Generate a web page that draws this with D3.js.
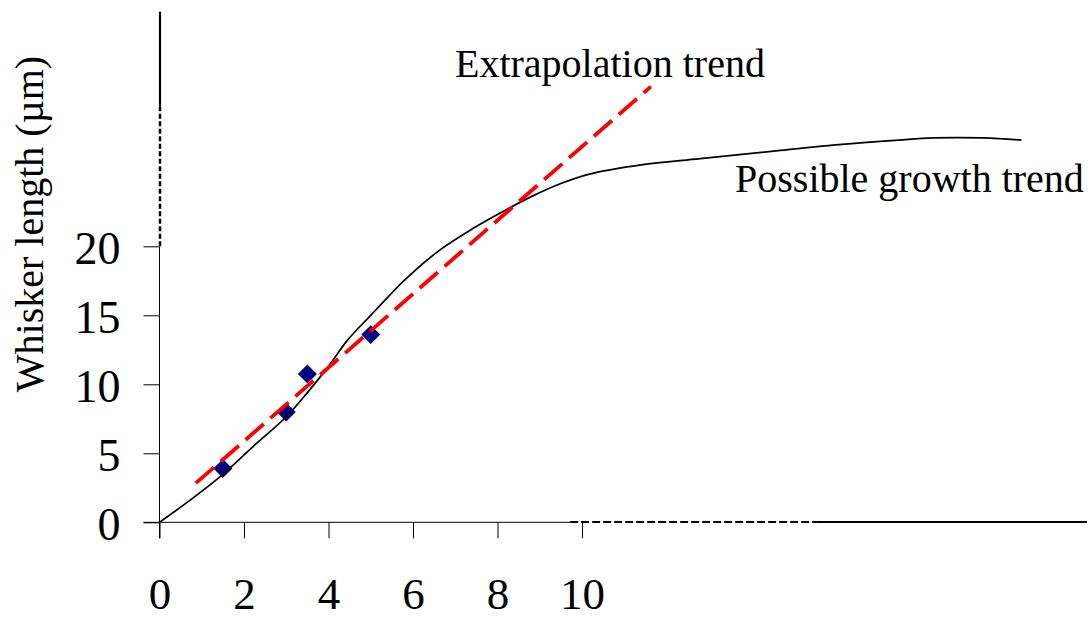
<!DOCTYPE html>
<html>
<head>
<meta charset="utf-8">
<script src="https://cdn.jsdelivr.net/npm/d3@7"></script>
<style>
  html, body { margin: 0; padding: 0; background: #fff; }
  svg { display: block; }
  text { font-family: "Liberation Serif", "Times New Roman", serif; fill: #000; }
</style>
</head>
<body>
<svg id="chart" width="1090" height="619"></svg>
<script>
// Measured whisker lengths (time, µm)
const measuredTime = [1.5, 3.0, 3.5, 5.0];
const measuredLength = [3.9, 8.0, 10.75, 13.6];

// Hand-drawn "possible growth" curve
const growthTime = [0, 0.7, 1.45, 2.2, 3.0, 3.5, 4.0, 4.45, 5.0, 5.4, 5.8, 6.6, 7.4, 8.15, 8.8, 9.5, 10.2, 11.4, 12.8, 14.7, 16.0, 17.5, 18.3, 19.5, 20.4];
const growthLength = [0, 1.55, 3.35, 5.45, 7.65, 9.4, 11.3, 13.2, 15.0, 16.3, 17.55, 19.65, 21.25, 22.55, 23.6, 24.55, 25.25, 25.9, 26.35, 26.95, 27.35, 27.7, 27.85, 27.85, 27.7];

// Straight-line extrapolation: length = slope * t + intercept
const trendSlope = 2.668;
const trendIntercept = 0.543;
const trendRange = [0.86, 11.63];

// Tick labels
const xTicks = [0, 2, 4, 6, 8, 10];
const yTicks = [0, 5, 10, 15, 20];

const svg = d3.select("#chart");

const x = d3.scaleLinear().domain([0, 22]).range([159.5, 1089]);
const y = d3.scaleLinear().domain([0, 37]).range([522.3, 11.7]);

// Axis lines with broken (dashed) sections
const axes = svg.append("g").attr("stroke", "#000").attr("fill", "none");
const ax = x(0), ay = y(0);
// y axis: thin lower part, dashed break, thick upper part
axes.append("line").attr("x1", ax).attr("x2", ax).attr("y1", ay + 16).attr("y2", y(20)).attr("stroke-width", 1);
axes.append("line").attr("x1", ax + 0.5).attr("x2", ax + 0.5).attr("y1", y(20)).attr("y2", y(30.1)).attr("stroke-width", 2.5).attr("stroke-dasharray", "5,2.5");
axes.append("line").attr("x1", ax + 0.5).attr("x2", ax + 0.5).attr("y1", y(30.1)).attr("y2", y(37)).attr("stroke-width", 2.2);
// x axis: thin left part, dashed break, thick right part
axes.append("line").attr("x1", ax - 16).attr("x2", x(9.72)).attr("y1", ay).attr("y2", ay).attr("stroke-width", 1);
axes.append("line").attr("x1", x(9.72)).attr("x2", x(15.56)).attr("y1", ay - 0.3).attr("y2", ay - 0.3).attr("stroke-width", 2.2).attr("stroke-dasharray", "8,3");
axes.append("line").attr("x1", x(15.56)).attr("x2", x(21.95)).attr("y1", ay - 0.3).attr("y2", ay - 0.3).attr("stroke-width", 2.2);

// Tick marks and labels
const xAxis = svg.append("g")
  .attr("transform", `translate(0,${ay})`)
  .call(d3.axisBottom(x).tickValues(xTicks).tickSize(16).tickPadding(39).tickFormat(d3.format("d")));
xAxis.select(".domain").remove();
xAxis.selectAll("text").attr("font-size", 45).attr("font-family", "'Liberation Serif', 'Times New Roman', serif").attr("fill", "#000");
xAxis.selectAll("line").attr("stroke", "#000");

const yAxis = svg.append("g")
  .attr("transform", `translate(${ax},0)`)
  .call(d3.axisLeft(y).tickValues(yTicks).tickSize(16).tickPadding(23).tickFormat(d3.format("d")));
yAxis.select(".domain").remove();
yAxis.selectAll("text").attr("font-size", 46).attr("dy", "0.38em").attr("font-family", "'Liberation Serif', 'Times New Roman', serif").attr("fill", "#000");
yAxis.selectAll("line").attr("stroke", "#000");

// Measured points as navy diamonds
const diamond = d3.symbol().type(d3.symbolSquare).size(180);
svg.append("g").selectAll("path")
  .data(d3.range(measuredTime.length))
  .join("path")
  .attr("d", diamond)
  .attr("transform", i => `translate(${x(measuredTime[i])},${y(measuredLength[i])}) rotate(45)`)
  .attr("fill", "#000080");

// Possible growth trend
const growthLine = d3.line()
  .x(i => x(growthTime[i]))
  .y(i => y(growthLength[i]))
  .curve(d3.curveCatmullRom.alpha(0.5));
svg.append("path")
  .attr("d", growthLine(d3.range(growthTime.length)))
  .attr("fill", "none")
  .attr("stroke", "#000")
  .attr("stroke-width", 1.7);

// Extrapolation trend line
svg.append("line")
  .attr("x1", x(trendRange[0])).attr("y1", y(trendSlope * trendRange[0] + trendIntercept))
  .attr("x2", x(trendRange[1])).attr("y2", y(trendSlope * trendRange[1] + trendIntercept))
  .attr("stroke", "#ff0000")
  .attr("stroke-width", 3.8)
  .attr("stroke-dasharray", "24,9");

// Annotations
svg.append("text").attr("x", 455).attr("y", 77).attr("font-size", 40).text("Extrapolation trend");
svg.append("text").attr("x", 735).attr("y", 192).attr("font-size", 40).text("Possible growth trend");

// Y axis title
svg.append("text")
  .attr("transform", "translate(43,224) rotate(-90)")
  .attr("text-anchor", "middle")
  .attr("font-size", 40)
  .text("Whisker length (µm)");
</script>
</body>
</html>
